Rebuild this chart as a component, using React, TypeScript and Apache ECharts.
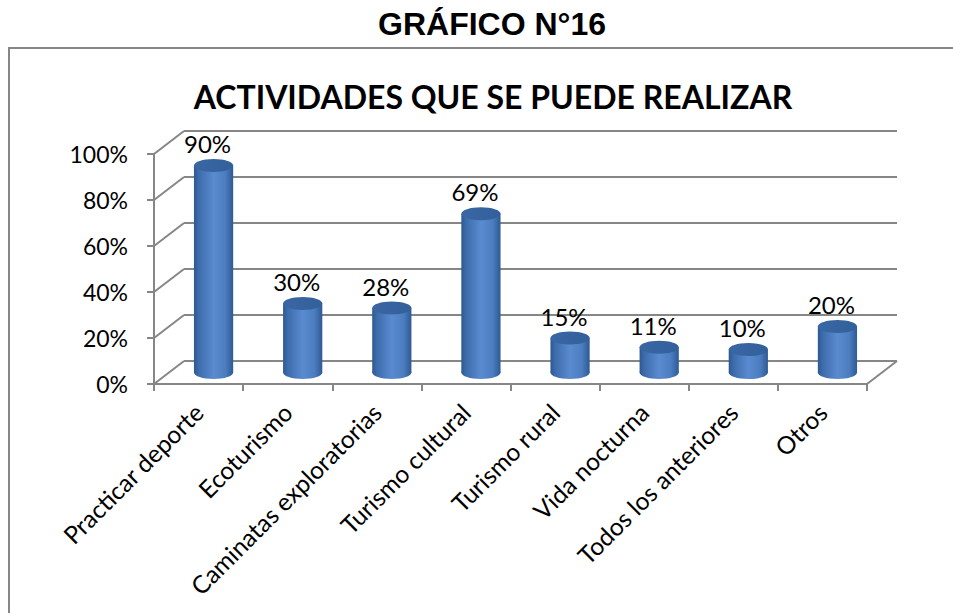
import React, { useEffect, useRef } from "react";
import * as echarts from "echarts";

const categories = [
  "Practicar deporte",
  "Ecoturismo",
  "Caminatas exploratorias",
  "Turismo cultural",
  "Turismo rural",
  "Vida nocturna",
  "Todos los anteriores",
  "Otros",
];
const values = [90, 30, 28, 69, 15, 11, 10, 20];
const yTicks = [0, 20, 40, 60, 80, 100];

const DX = 30;
const DY = -23;
const GRID_COLOR = "#868686";
const FONT = "Lato";

export default function App() {
  const ref = useRef<HTMLDivElement>(null);
  useEffect(() => {
    if (!ref.current) return;
    const chart = echarts.init(ref.current, null, { renderer: "svg" });
    const lineStyle = { stroke: GRID_COLOR, lineWidth: 2 };
    const option: any = {
      animation: false,
      backgroundColor: "#ffffff",
      title: [
        {
          text: "GRÁFICO N°16",
          left: 487,
          top: 3,
          textAlign: "center",
          textStyle: { fontFamily: "Liberation Sans", fontWeight: "bold", fontSize: 32, color: "#000" },
        },
        {
          text: "ACTIVIDADES QUE SE PUEDE REALIZAR",
          left: 488,
          top: 75,
          textAlign: "center",
          textStyle: { fontFamily: FONT, fontWeight: "bold", fontSize: 32, color: "#000" },
        },
      ],
      graphic: [
        {
          type: "rect",
          shape: { x: 9, y: 48, width: 1000, height: 700 },
          style: { fill: "none", stroke: GRID_COLOR, lineWidth: 2 },
          silent: true,
        },
      ],
      grid: { left: 154, right: 86, top: 154, bottom: 229 },
      xAxis: {
        type: "category",
        data: categories,
        axisLine: { lineStyle: { color: GRID_COLOR, width: 2 } },
        axisTick: { show: true, length: 7, lineStyle: { color: GRID_COLOR, width: 2 } },
        axisLabel: {
          rotate: 45,
          interval: 0,
          margin: 24,
          fontFamily: FONT,
          fontSize: 24.5,
          color: "#000",
        },
      },
      yAxis: {
        type: "value",
        min: 0,
        max: 100,
        interval: 20,
        axisLine: { show: true, lineStyle: { color: GRID_COLOR, width: 2 } },
        axisTick: { show: true, length: 7, lineStyle: { color: GRID_COLOR, width: 2 } },
        splitLine: { show: false },
        axisLabel: {
          formatter: "{value}%",
          margin: 26,
          fontFamily: FONT,
          fontSize: 23,
          color: "#000",
        },
      },
      series: [
        {
          type: "custom",
          silent: true,
          data: yTicks.map((v) => [0, v]),
          renderItem: (params: any, api: any) => {
            const v = api.value(1);
            const cs = params.coordSys;
            const y = api.coord([0, v])[1];
            const x0 = cs.x;
            const x1 = cs.x + cs.width;
            const children: any[] = [
              { type: "line", shape: { x1: x0, y1: y, x2: x0 + DX, y2: y + DY }, style: lineStyle },
              { type: "line", shape: { x1: x0 + DX, y1: y + DY, x2: x1 + DX, y2: y + DY }, style: lineStyle },
            ];
            if (v === 0) {
              children.push({ type: "line", shape: { x1: x1, y1: y, x2: x1 + DX, y2: y + DY }, style: lineStyle });
            }
            return { type: "group", children };
          },
        },
        {
          type: "custom",
          data: values.map((v, i) => [i, v]),
          renderItem: (params: any, api: any) => {
            const i = api.value(0);
            const v = api.value(1);
            const top = api.coord([i, v]);
            const base = api.coord([i, 0]);
            const w = api.size([1, 0])[0] * 0.44;
            const cx = top[0] + DX / 2;
            const ty = top[1] + DY / 2;
            const by = base[1] + DY / 2;
            const rx = w / 2;
            const ry = 6.5;
            const bodyGrad = new echarts.graphic.LinearGradient(0, 0, 1, 0, [
              { offset: 0, color: "#2d5890" },
              { offset: 0.12, color: "#3d6cac" },
              { offset: 0.5, color: "#5a8bd0" },
              { offset: 0.8, color: "#4b7dc0" },
              { offset: 1, color: "#2f5a93" },
            ]);
            const topGrad = new echarts.graphic.LinearGradient(0, 0, 1, 0, [
              { offset: 0, color: "#3a67a3" },
              { offset: 1, color: "#32609b" },
            ]);
            return {
              type: "group",
              children: [
                {
                  type: "ellipse",
                  shape: { cx, cy: by, rx, ry },
                  style: { fill: bodyGrad },
                },
                {
                  type: "rect",
                  shape: { x: cx - rx, y: ty, width: w, height: by - ty },
                  style: { fill: bodyGrad },
                },
                {
                  type: "ellipse",
                  shape: { cx, cy: ty, rx, ry },
                  style: { fill: topGrad },
                },
                {
                  type: "text",
                  x: cx - 6,
                  y: ty - 22,
                  style: {
                    text: v + "%",
                    fontFamily: FONT,
                    fontSize: 24,
                    fill: "#000",
                    align: "center",
                    verticalAlign: "middle",
                  },
                },
              ],
            };
          },
        },
      ],
    };
    chart.setOption(option);
    return () => chart.dispose();
  }, []);
  return (
    <div
      ref={ref}
      style={{ position: "absolute", left: 0, top: 0, width: 953, height: 613 }}
    />
  );
}
